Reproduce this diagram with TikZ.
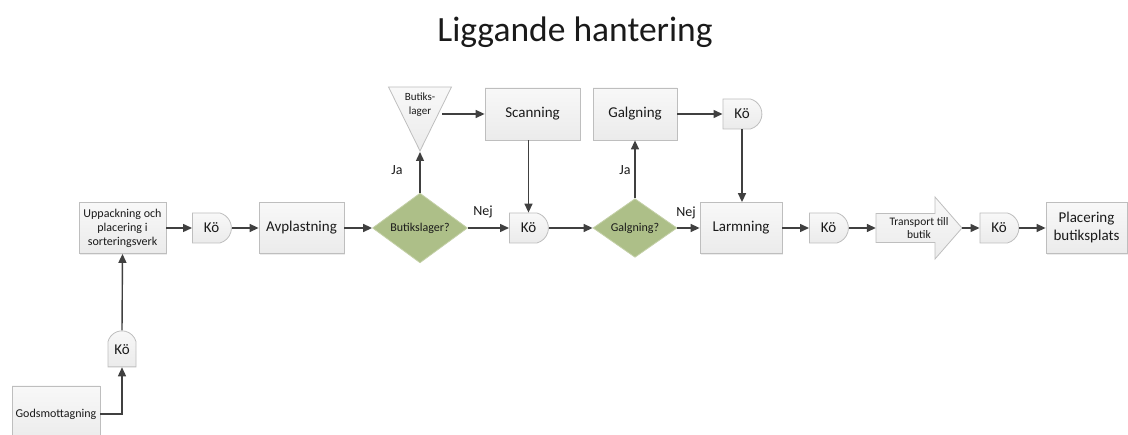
\documentclass[tikz,border=0pt]{standalone}
\usepackage{fontspec}
\setmainfont{Carlito}
\usetikzlibrary{arrows.meta,shapes.geometric,shapes.misc,shadows}
\pgfdeclarelayer{background}
\pgfsetlayers{background,main}
\definecolor{boxline}{HTML}{BEBEBE}
\definecolor{boxtop}{HTML}{F8F8F8}
\definecolor{boxbot}{HTML}{EBEBEB}
\definecolor{decfill}{HTML}{ADBF88}
\definecolor{decline}{HTML}{C4D0A8}
\definecolor{flow}{HTML}{404040}
\definecolor{ink}{HTML}{1A1A1A}

\begin{document}
\begin{tikzpicture}[x=1pt,y=-1pt,
  every node/.style={text=ink, inner sep=0pt},
  stepbox/.style={rectangle, draw=boxline, line width=0.8pt,
    top color=boxtop, bottom color=boxbot, align=center,
    font=\fontsize{15}{18}\selectfont,
    drop shadow={opacity=0.15, shadow xshift=1.2pt, shadow yshift=-1.2pt}},
  smallbox/.style={stepbox, font=\fontsize{12}{14}\selectfont},
  queue/.style={rounded rectangle, rounded rectangle west arc=none,
    rounded rectangle arc length=150, draw=boxline, line width=0.8pt,
    top color=boxtop, bottom color=boxbot,
    minimum width=39pt, minimum height=30pt,
    font=\fontsize{15}{18}\selectfont},
  decision/.style={diamond, draw=decline, line width=0.8pt, fill=decfill,
    font=\fontsize{12}{14}\selectfont},
  flowline/.style={draw=flow, line width=1.4pt,
    -{Triangle[length=9pt,width=8pt]}},
  answer/.style={font=\fontsize{14}{16}\selectfont}
]
\useasboundingbox (0,0) rectangle (1128,435);

% title
\node[font=\fontsize{35.5}{40}\selectfont, anchor=base] (title) at (575,42) {Liggande hantering};

% receiving and unpacking
\node[smallbox, minimum width=88pt, minimum height=56pt] (god) at (56,414) {Godsmottagning};
\node[queue, rotate=90, minimum width=36pt, minimum height=28pt] (q0) at (122,350) {\rotatebox{-90}{Kö}};
\node[smallbox, minimum width=87pt, minimum height=51pt] (unpack) at (122.5,228) {Uppackning och\\placering i\\sorteringsverk};
\node[queue] (q1) at (211.5,228) {Kö};
\node[stepbox, minimum width=85pt, minimum height=51pt] (unload) at (301.5,228) {Avplastning};

% store stock decision
\node[decision, minimum width=95pt, minimum height=60pt] (dstore) at (420,228) {Butikslager?};
\node[isosceles triangle, isosceles triangle stretches=true, shape border rotate=-90,
  draw=boxline, line width=0.8pt, top color=boxtop, bottom color=boxbot,
  minimum width=63pt, minimum height=64pt, anchor=apex] (stock) at (420,152) {};
\node[font=\fontsize{11}{14}\selectfont, align=center] (stocktext) at (420,105) {Butiks-\\lager};
\node[stepbox, minimum width=95pt, minimum height=52pt] (scan) at (532.5,114) {Scanning};
\node[queue] (q2) at (528.5,228) {Kö};

% hanging decision
\node[decision, minimum width=84pt, minimum height=56pt] (dhang) at (635,228) {Galgning?};
\node[stepbox, minimum width=84pt, minimum height=52pt] (hang) at (635,114) {Galgning};
\node[queue] (q3) at (742,114) {Kö};
\node[stepbox, minimum width=82pt, minimum height=51pt] (alarm) at (741,228) {Larmning};
\node[queue] (q4) at (828.5,228) {Kö};

% transport block arrow
\node[font=\fontsize{11.5}{13}\selectfont, align=center, minimum width=86pt, minimum height=29pt] (trans) at (919,228) {Transport till\\butik};
\begin{pgfonlayer}{background}
  \path[draw=boxline, line width=0.8pt, top color=boxtop, bottom color=boxbot]
    (876,213.5) -- (935,213.5) -- (935,197) -- (962,228) -- (935,259)
    -- (935,242.5) -- (876,242.5) -- cycle;
\end{pgfonlayer}
\node[queue] (q5) at (999,228) {Kö};
\node[stepbox, minimum width=81pt, minimum height=51pt] (place) at (1086.5,228) {Placering\\butiksplats};

% answers
\node[answer] (ja1) at (397,170) {Ja};
\node[answer] (nej1) at (483,212) {Nej};
\node[answer] (ja2) at (625,170) {Ja};
\node[answer] (nej2) at (686,213) {Nej};

% connectors
\draw[flowline] (god.east) -| (q0.west);
\draw[flowline] (q0.east) -- (unpack.south);
\draw[flowline] (unpack.east) -- (q1.west);
\draw[flowline] (q1.east) -- (unload.west);
\draw[flowline] (unload.east) -- (dstore.west);
\draw[flowline] (dstore.north) -- (stock.apex);
\draw[flowline] (stock.east |- scan.west) -- (scan.west);
\draw[flowline] (scan.south -| q2.north) -- (q2.north);
\draw[flowline] (dstore.east) -- (q2.west);
\draw[flowline] (q2.east) -- (dhang.west);
\draw[flowline] (dhang.north) -- (hang.south);
\draw[flowline] (hang.east) -- (q3.west);
\draw[flowline] (q3.south) -- (q3.south |- alarm.north);
\draw[flowline] (dhang.east) -- (alarm.west);
\draw[flowline] (alarm.east) -- (q4.west);
\draw[flowline] (q4.east) -- (trans.west);
\draw[flowline] (trans.east) -- (q5.west);
\draw[flowline] (q5.east) -- (place.west);
\end{tikzpicture}
\end{document}
